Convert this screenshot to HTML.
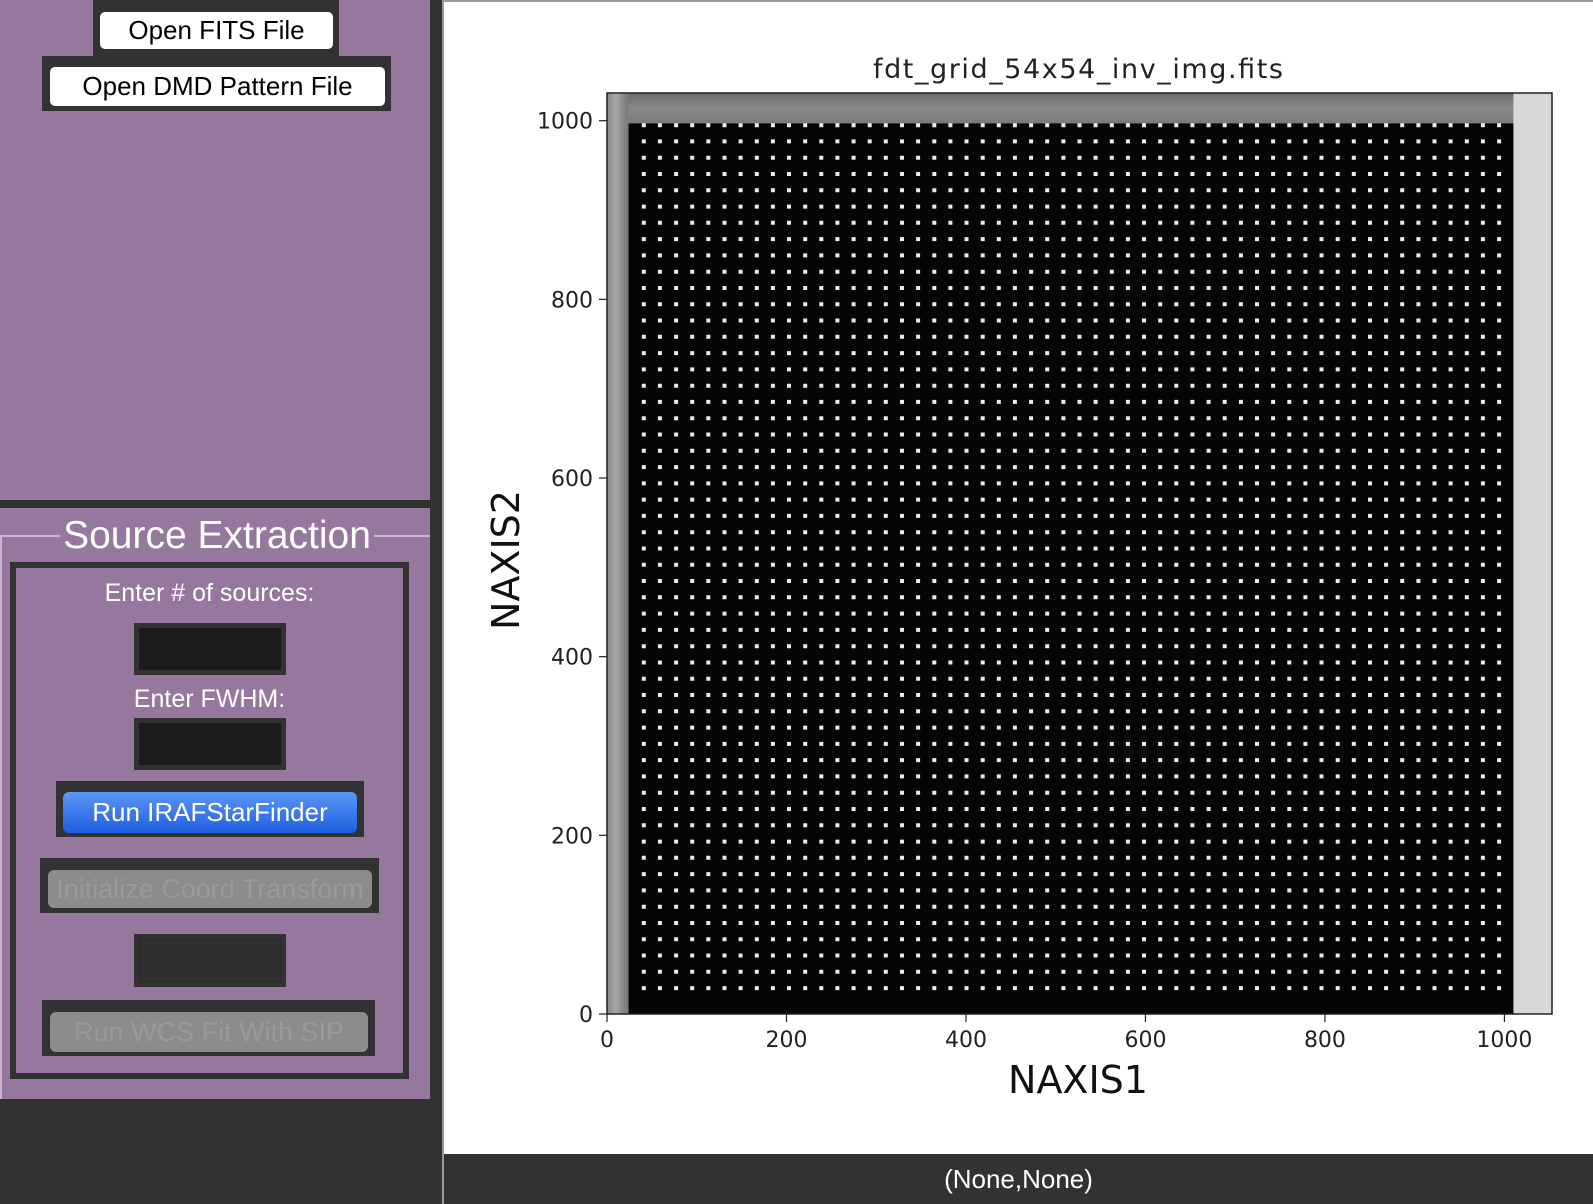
<!DOCTYPE html>
<html><head><meta charset="utf-8"><style>
html,body{margin:0;padding:0;}
body{width:1593px;height:1204px;position:relative;background:#323232;overflow:hidden;font-family:"Liberation Sans",sans-serif;}
.abs{position:absolute;box-sizing:border-box;}
.purple{background:#96789f;}
.dark{background:#323232;}
.wbtn{background:#fff;border-radius:5px;color:#000;font-size:26px;text-align:center;}
.lbl{color:#fff;font-size:25px;text-align:center;}
.inp{background:#323232;padding:5px;}
.inp div{width:100%;height:100%;background:#1c1c1c;}
</style></head><body>
<div class="abs purple" style="left:0;top:0;width:430px;height:500px;"></div>
<div class="abs dark" style="left:93px;top:0;width:246px;height:56px;"></div>
<div class="abs wbtn" style="left:100px;top:12px;width:233px;height:37px;line-height:37px;">Open FITS File</div>
<div class="abs dark" style="left:42px;top:56px;width:349px;height:55px;"></div>
<div class="abs wbtn" style="left:50px;top:67px;width:335px;height:39px;line-height:39px;">Open DMD Pattern File</div>

<div class="abs purple" style="left:0;top:508px;width:430px;height:591px;"></div>
<div class="abs" style="left:0;top:535px;width:430px;height:2px;background:#c8b4cc;"></div>
<div class="abs" style="left:0;top:535px;width:2px;height:564px;background:#c8b4cc;"></div>
<div class="abs" style="left:60px;top:512px;width:314px;height:48px;background:#96789f;color:#fff;font-size:39px;text-align:center;line-height:48px;white-space:nowrap;">Source Extraction</div>
<div class="abs" style="left:10px;top:562px;width:399px;height:517px;border:6px solid #323232;"></div>
<div class="abs lbl" style="left:10px;top:579px;width:399px;">Enter # of sources:</div>
<div class="abs inp" style="left:134px;top:623px;width:152px;height:52px;"><div></div></div>
<div class="abs lbl" style="left:10px;top:685px;width:399px;">Enter FWHM:</div>
<div class="abs inp" style="left:134px;top:718px;width:152px;height:52px;"><div></div></div>
<div class="abs dark" style="left:56px;top:781px;width:308px;height:56px;"></div>
<div class="abs" style="left:63px;top:792px;width:294px;height:41px;line-height:41px;border-radius:6px;background:linear-gradient(#5b96f5,#1f5fe0);color:#fff;font-size:26px;text-align:center;">Run IRAFStarFinder</div>
<div class="abs dark" style="left:40px;top:858px;width:339px;height:55px;"></div>
<div class="abs" style="left:48px;top:870px;width:324px;height:38px;line-height:38px;border-radius:6px;background:#8c8c8c;color:#9a9a9a;font-size:27px;text-align:center;white-space:nowrap;overflow:hidden;">Initialize Coord Transform</div>
<div class="abs inp" style="left:134px;top:934px;width:152px;height:53px;"><div style="background:#303030;border:1px solid #2a2a2a;box-sizing:border-box;"></div></div>
<div class="abs dark" style="left:42px;top:1000px;width:333px;height:56px;"></div>
<div class="abs" style="left:50px;top:1012px;width:318px;height:40px;line-height:40px;border-radius:6px;background:#8c8c8c;color:#9a9a9a;font-size:27px;text-align:center;white-space:nowrap;overflow:hidden;">Run WCS Fit With SIP</div>

<div class="abs" style="left:442px;top:0;width:1151px;height:1154px;background:#fff;border-left:2px solid #9a9a9a;border-top:2px solid #9a9a9a;"></div>
<div class="abs" style="left:442px;top:1154px;width:1151px;height:50px;background:#323232;border-left:2px solid #9a9a9a;color:#fff;font-size:26px;text-align:center;line-height:50px;">(None,None)</div>

<svg class="abs" style="left:0;top:0" width="1593" height="1204">
<defs>
<linearGradient id="lg" x1="0" x2="1"><stop offset="0" stop-color="#8a8a8a"/><stop offset="0.4" stop-color="#a8a8a8"/><stop offset="0.7" stop-color="#8c8c8c"/><stop offset="1" stop-color="#777"/></linearGradient>
<linearGradient id="tg" x1="0" y1="0" x2="0" y2="1"><stop offset="0" stop-color="#6a6a6a"/><stop offset="0.5" stop-color="#8a8a8a"/><stop offset="1" stop-color="#7a7a7a"/></linearGradient>
</defs>
<g id="chart"></g>
</svg>
<script>
const xTicks=[0,200,400,600,800,1000];
const yTicks=[0,200,400,600,800,1000];
const xExtent=[0,1053];
const yExtent=[0,1031];
const darkRegion=[24,1010,0,997]; // x0,x1,y0,y1 data
const gridCols=[41,994,54]; // first, last, count
const gridRows=[29,995,54];
const title="fdt_grid_54x54_inv_img.fits";
const L=607,R=1552,T=93,B=1014;
function sx(v){return L+(v-xExtent[0])/(xExtent[1]-xExtent[0])*(R-L);}
function sy(v){return B-(v-yExtent[0])/(yExtent[1]-yExtent[0])*(B-T);}
const NS='http://www.w3.org/2000/svg';
const g=document.getElementById('chart');
function el(t,a,txt){const e=document.createElementNS(NS,t);for(const k in a)e.setAttribute(k,a[k]);if(txt!==undefined)e.textContent=txt;g.appendChild(e);return e;}
let e;
e=el('rect',{x:L,y:T,width:R-L,height:B-T,fill:'#d8d8d8'});


e=el('rect',{x:L,y:T,width:sx(darkRegion[0])-L,height:B-T,fill:'url(#lg)'});


e=el('rect',{x:sx(darkRegion[0]),y:T,width:sx(darkRegion[1])-sx(darkRegion[0]),height:sy(darkRegion[3])-T,fill:'url(#tg)'});


e=el('rect',{x:sx(darkRegion[0]),y:sy(darkRegion[3]),width:sx(darkRegion[1])-sx(darkRegion[0]),height:sy(darkRegion[2])-sy(darkRegion[3]),fill:'#050505'});


const dots=el('g',{fill:'#ececec'});


const cs=(gridCols[1]-gridCols[0])/(gridCols[2]-1), rs=(gridRows[1]-gridRows[0])/(gridRows[2]-1);
let s='';
for(let i=0;i<gridCols[2];i++){for(let j=0;j<gridRows[2];j++){const x=sx(gridCols[0]+i*cs),y=sy(gridRows[0]+j*rs);s+='M'+(x-2).toFixed(1)+' '+(y-2).toFixed(1)+'h4v4h-4z';}}
const p=document.createElementNS(NS,'path');p.setAttribute('d',s);dots.appendChild(p);
e=el('rect',{x:L,y:T,width:R-L,height:B-T,fill:'none',stroke:'#222','stroke-width':1.5});


xTicks.forEach(v=>{
 e=el('line',{x1:sx(v),x2:sx(v),y1:B,y2:B+8,stroke:'#222','stroke-width':1.2});
 
 
 e=el('text',{x:sx(v),y:B+33,'text-anchor':'middle','font-size':22,'font-family':'DejaVu Sans, Liberation Sans, sans-serif',fill:'#222'},String(v));
 
 
});
yTicks.forEach(v=>{
 e=el('line',{x1:L-8,x2:L,y1:sy(v),y2:sy(v),stroke:'#222','stroke-width':1.2});
 
 
 e=el('text',{x:L-14,y:sy(v)+8,'text-anchor':'end','font-size':22,'font-family':'DejaVu Sans, Liberation Sans, sans-serif',fill:'#222'},String(v));
 
 
});
e=el('text',{x:1078,y:78,'text-anchor':'middle','font-size':27,'font-family':'DejaVu Sans, Liberation Sans, sans-serif',fill:'#222',textLength:410},title);


e=el('text',{x:1078,y:1093,'text-anchor':'middle','font-size':38,'font-family':'DejaVu Sans, Liberation Sans, sans-serif',fill:'#111'},'NAXIS1');


e=el('text',{x:0,y:0,'text-anchor':'middle','font-size':38,'font-family':'DejaVu Sans, Liberation Sans, sans-serif',fill:'#111',transform:'translate(519,560) rotate(-90)'},'NAXIS2');


</script>
</body></html>
